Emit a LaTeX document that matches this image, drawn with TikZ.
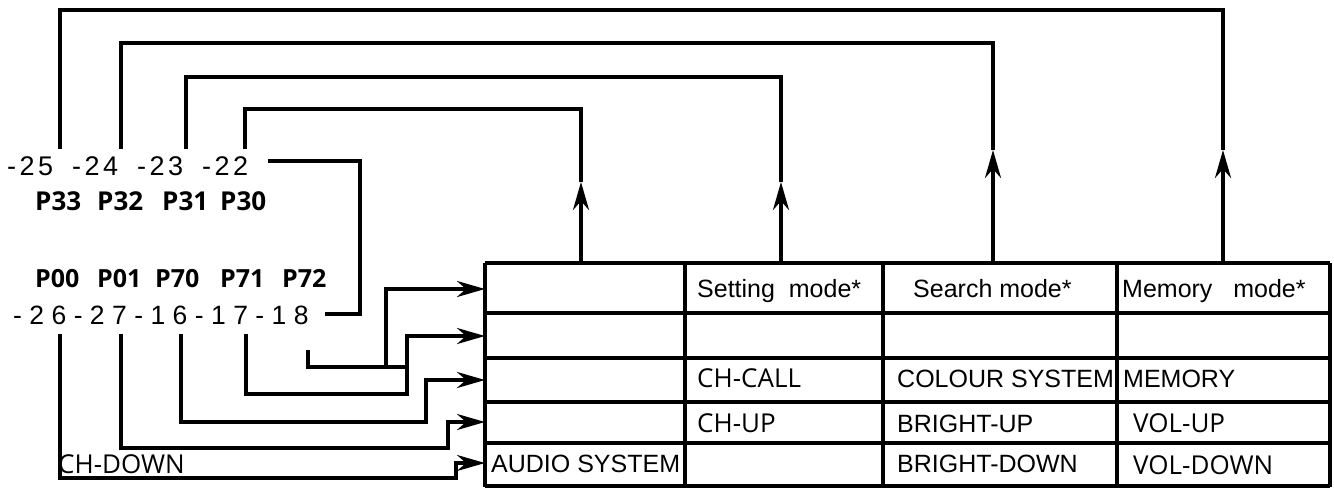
\documentclass[tikz,border=0pt]{standalone}
\usepackage{fontspec}
\setmainfont{Liberation Sans}
\newfontfamily\hum{Open Sans}
\newfontfamily\spacedA[LetterSpace=13]{Liberation Sans}
\newfontfamily\spacedB[LetterSpace=28]{Liberation Sans}
\usetikzlibrary{arrows.meta}
\begin{document}
\begin{tikzpicture}[x=1pt,y=-1pt,
  lbl/.style={inner sep=0pt, anchor=base west},
  ar/.style={font=\fontsize{25}{29}\selectfont},
  hm/.style={font=\hum\fontsize{26}{30}\selectfont},
  pinA/.style={font=\hum\bfseries\fontsize{26}{30}\selectfont},
  pinB/.style={font=\hum\bfseries\fontsize{25}{30}\selectfont},
  numA/.style={font=\spacedA\fontsize{27}{30}\selectfont},
  numB/.style={font=\spacedB\fontsize{26.5}{30}\selectfont},
  wire/.style={line width=3.6pt},
  thinwire/.style={line width=3.2pt},
  tip/.style={-{Stealth[length=28pt,width=16pt,inset=9pt]}},
  gridline/.style={line width=4pt},
  gridv/.style={line width=3.2pt}
]
\useasboundingbox (0,0) rectangle (1334,488);

% ---- table ----
\foreach \yy in {263,313,358,402,443,486}
  \draw[gridline] (485,\yy) -- (1330,\yy);
\foreach \xx in {485,685,883,1117,1330}
  \draw[gridv] (\xx,263) -- (\xx,487);

\node[lbl,ar] (s1) at (697,297) {Setting\ \ mode*};
\node[lbl,ar] (s2) at (913,297) {Search mode*};
\node[lbl,ar] (s3) at (1122,297) {Memory\ \ \ mode*};
\node[lbl,hm] (c1) at (697,387) {CH-CALL};
\node[lbl,ar] (c2) at (897,387) {COLOUR SYSTEM};
\node[lbl,ar] (c3) at (1123,387) {MEMORY};
\node[lbl,hm] (u1) at (697,432) {CH-UP};
\node[lbl,ar] (u2) at (897,432) {BRIGHT-UP};
\node[lbl,hm] (u3) at (1133,432) {VOL-UP};
\node[lbl,ar] (d0) at (491,472) {AUDIO SYSTEM};
\node[lbl,ar] (d2) at (897,472) {BRIGHT-DOWN};
\node[lbl,hm] (d3) at (1133,474) {VOL-DOWN};

% ---- pin labels ----
\node[lbl,numA] (n25) at (7,175) {-25};
\node[lbl,numA] (n24) at (72,175) {-24};
\node[lbl,numA] (n23) at (137,175) {-23};
\node[lbl,numA] (n22) at (202,175) {-22};
\node[lbl,pinA] (p33) at (35,210) {P33};
\node[lbl,pinA] (p32) at (97,210) {P32};
\node[lbl,pinA] (p31) at (162,210) {P31};
\node[lbl,pinA] (p30) at (220,210) {P30};
\node[lbl,pinB] (p00) at (35,287) {P00};
\node[lbl,pinB] (p01) at (97,287) {P01};
\node[lbl,pinB] (p70) at (155,287) {P70};
\node[lbl,pinB] (p71) at (220,287) {P71};
\node[lbl,pinB] (p72) at (282,287) {P72};
\node[lbl,numB] (nb) at (13,324) {-26-27-16-17-18};
\node[lbl,hm] (chd) at (58,473) {CH-DOWN};

% ---- coordinates ----
\coordinate (q25) at (60,149);
\coordinate (q24) at (121,149);
\coordinate (q23) at (186,149);
\coordinate (q22) at (245,149);
\coordinate (t22) at (581,263);
\coordinate (t23) at (781,263);
\coordinate (t24) at (993,263);
\coordinate (t25) at (1223,263);
\coordinate (a22) at (581,182);
\coordinate (a23) at (781,182);
\coordinate (a24) at (993,150);
\coordinate (a25) at (1223,150);
\coordinate (e22) at (268,161);
\coordinate (e18) at (325,314);
\coordinate (q26) at (60,334);
\coordinate (q27) at (121,334);
\coordinate (q16) at (181,334);
\coordinate (q17) at (246,334);
\coordinate (q18) at (308,350);
\coordinate (r1) at (485,289);
\coordinate (r2) at (485,336);
\coordinate (r3) at (485,380);
\coordinate (r4) at (485,422);
\coordinate (r5) at (485,463);

% ---- upper connectors ----
\draw[wire,tip] (t22) -- (a22);
\draw[wire] (a22) -- (581,109) -| (q22);
\draw[wire,tip] (t23) -- (a23);
\draw[wire] (a23) -- (781,77) -| (q23);
\draw[wire,tip] (t24) -- (a24);
\draw[wire] (a24) -- (993,43) -| (q24);
\draw[wire,tip] (t25) -- (a25);
\draw[wire] (a25) -- (1223,10) -| (q25);
\draw[wire] (e22) -- (360,161) |- (e18);

% ---- lower connectors ----
\draw[wire] (q18) |- (407,367);
\draw[wire,tip] (386,367) |- (r1);
\draw[wire,tip] (q17) |- (407,394) |- (r2);
\draw[wire,tip] (q16) |- (426,422) |- (r3);
\draw[wire,tip] (q27) |- (448,448) |- (r4);
\draw[thinwire,tip] (q26) |- (456,478) |- (r5);
\end{tikzpicture}
\end{document}
